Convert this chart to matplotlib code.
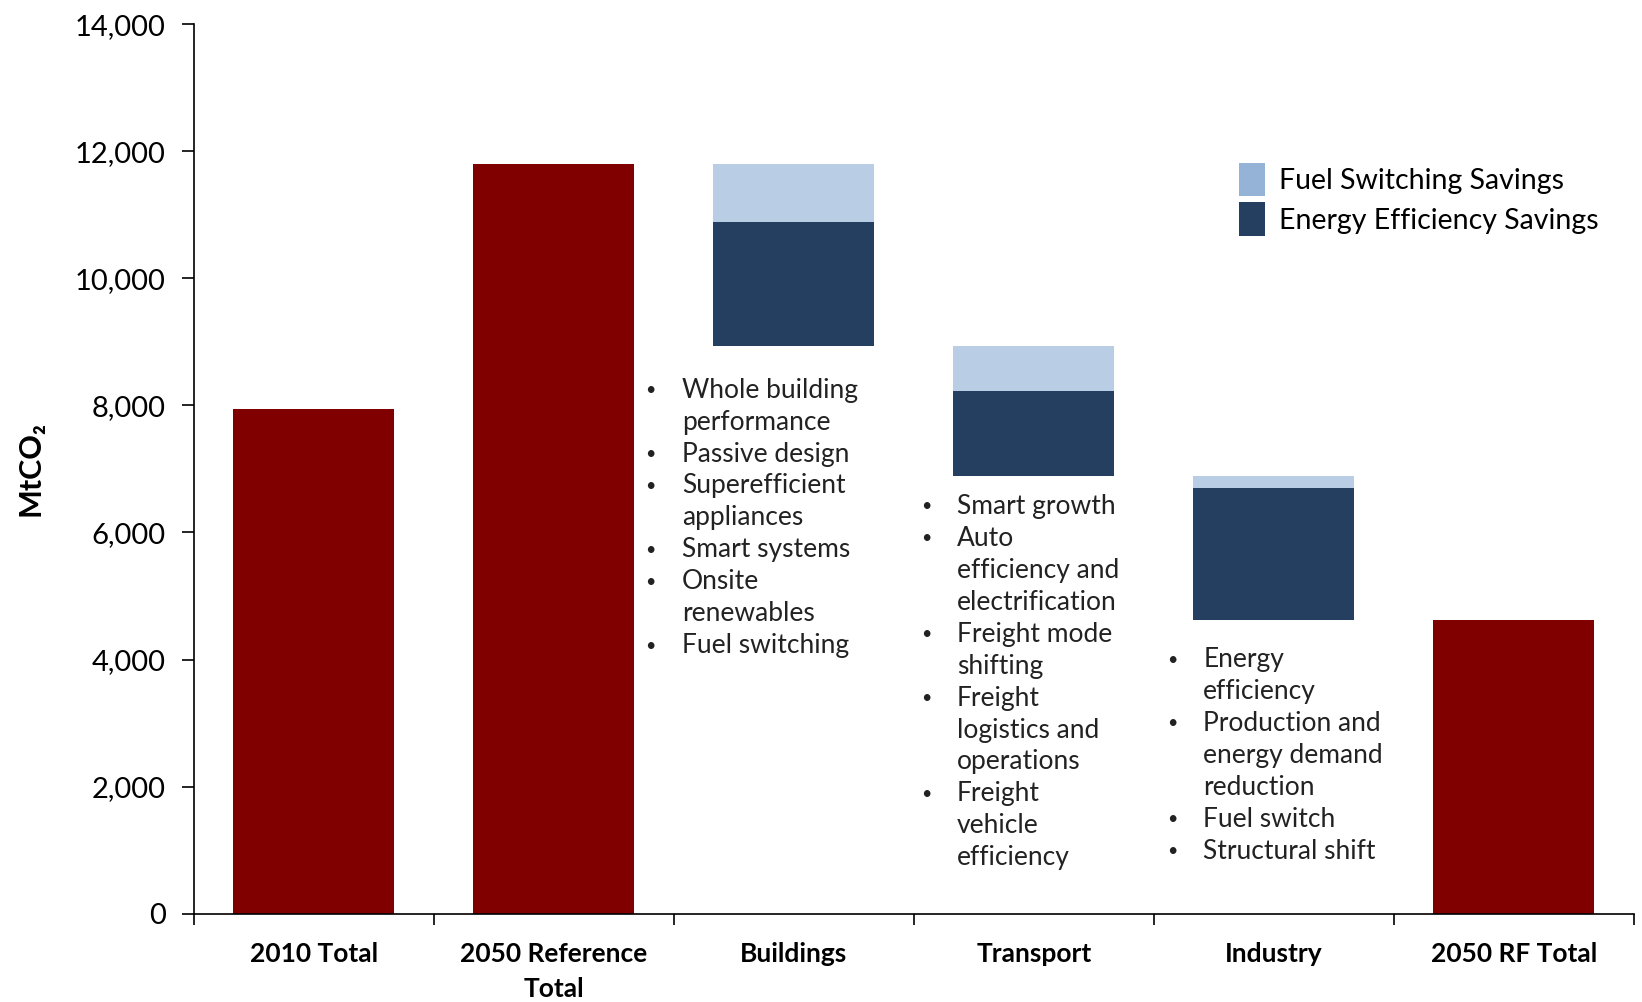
import matplotlib
matplotlib.use("Agg")
import matplotlib.pyplot as plt
from matplotlib.patches import Patch
import numpy as np

plt.rcParams['font.family'] = ['Lato', 'DejaVu Sans']

categories = ["2010 Total", "2050 Reference\nTotal", "Buildings", "Transport", "Industry", "2050 RF Total"]
totals = [7950, 11800, 0, 0, 0, 4630]
# waterfall savings (sector bars)
efficiency = [0, 0, 1960, 1330, 2075, 0]
fuel_switch = [0, 0, 910, 710, 185, 0]

bullets_buildings = ["Whole building", "performance", "Passive design", "Superefficient",
                     "appliances", "Smart systems", "Onsite", "renewables", "Fuel switching"]
flags_buildings = [1, 0, 1, 1, 0, 1, 1, 0, 1]
bullets_transport = ["Smart growth", "Auto", "efficiency and", "electrification", "Freight mode",
                     "shifting", "Freight", "logistics and", "operations", "Freight", "vehicle", "efficiency"]
flags_transport = [1, 1, 0, 0, 1, 0, 1, 0, 0, 1, 0, 0]
bullets_industry = ["Energy", "efficiency", "Production and", "energy demand", "reduction",
                    "Fuel switch", "Structural shift"]
flags_industry = [1, 0, 1, 0, 0, 1, 1]

RED = "#800000"
LIGHT = "#B9CDE5"
DARK = "#243F60"

fig = plt.figure(figsize=(16.42, 10.02), dpi=100)
ax = fig.add_axes([0.118, 0.088, 0.877, 0.888])

x = np.arange(len(categories))
w = 0.67
ax.bar(x, totals, width=w, color=RED)
running = totals[1]
for i in range(2, 5):
    top = running
    fs_bottom = top - fuel_switch[i]
    ee_bottom = fs_bottom - efficiency[i]
    ax.bar(x[i], fuel_switch[i], bottom=fs_bottom, width=w, color=LIGHT)
    ax.bar(x[i], efficiency[i], bottom=ee_bottom, width=w, color=DARK)
    running = ee_bottom

ax.set_xlim(-0.5, len(categories) - 0.5)
ax.set_ylim(0, 14000)
ax.set_yticks(np.arange(0, 14001, 2000))
ax.set_yticklabels([f"{v:,}" for v in range(0, 14001, 2000)], fontsize=21)
ax.set_xticks(x)
ax.set_xticklabels(categories, fontsize=19, fontweight='bold', linespacing=1.55)
ax.tick_params(axis='x', length=0, pad=20)
ax.set_xticks(np.arange(-0.5, len(categories) + 0.5, 1), minor=True)
ax.tick_params(axis='x', which='minor', length=8, width=1.2, direction='out')
ax.tick_params(axis='y', length=9, width=1.2, direction='out', pad=11)
for s in ['top', 'right']:
    ax.spines[s].set_visible(False)
for s in ['left', 'bottom']:
    ax.spines[s].set_linewidth(1.2)

ax.set_ylabel("MtCO₂", fontsize=22, fontweight='bold', labelpad=22,
              family=['Lato', 'DejaVu Sans'])

LINE_PT = 23.0


def bullet_block(xb, xt, ycenter, lines, flags):
    for i, (ln, f) in enumerate(zip(lines, flags)):
        off = -i * LINE_PT
        ax.annotate(ln, xy=(xt, ycenter), xytext=(0, off), textcoords='offset points',
                    fontsize=19, va='center', ha='left', color='#222222')
        if f:
            ax.annotate("•", xy=(xb, ycenter), xytext=(0, off), textcoords='offset points',
                        fontsize=13, va='center', ha='left', color='#222222')


bullet_block(1.38, 1.533, 8240, bullets_buildings, flags_buildings)
bullet_block(2.53, 2.68, 6410, bullets_transport, flags_transport)
bullet_block(3.555, 3.706, 4000, bullets_industry, flags_industry)

handles = [Patch(facecolor="#95B3D7", label="Fuel Switching Savings"),
           Patch(facecolor=DARK, label="Energy Efficiency Savings")]
ax.legend(handles=handles, loc='upper left', bbox_to_anchor=(0.718, 0.857), frameon=False,
          fontsize=20.5, handlelength=0.9, handleheight=1.45, handletextpad=0.5,
          labelspacing=0.2, borderaxespad=0)

fig.savefig("out.png", dpi=100)
